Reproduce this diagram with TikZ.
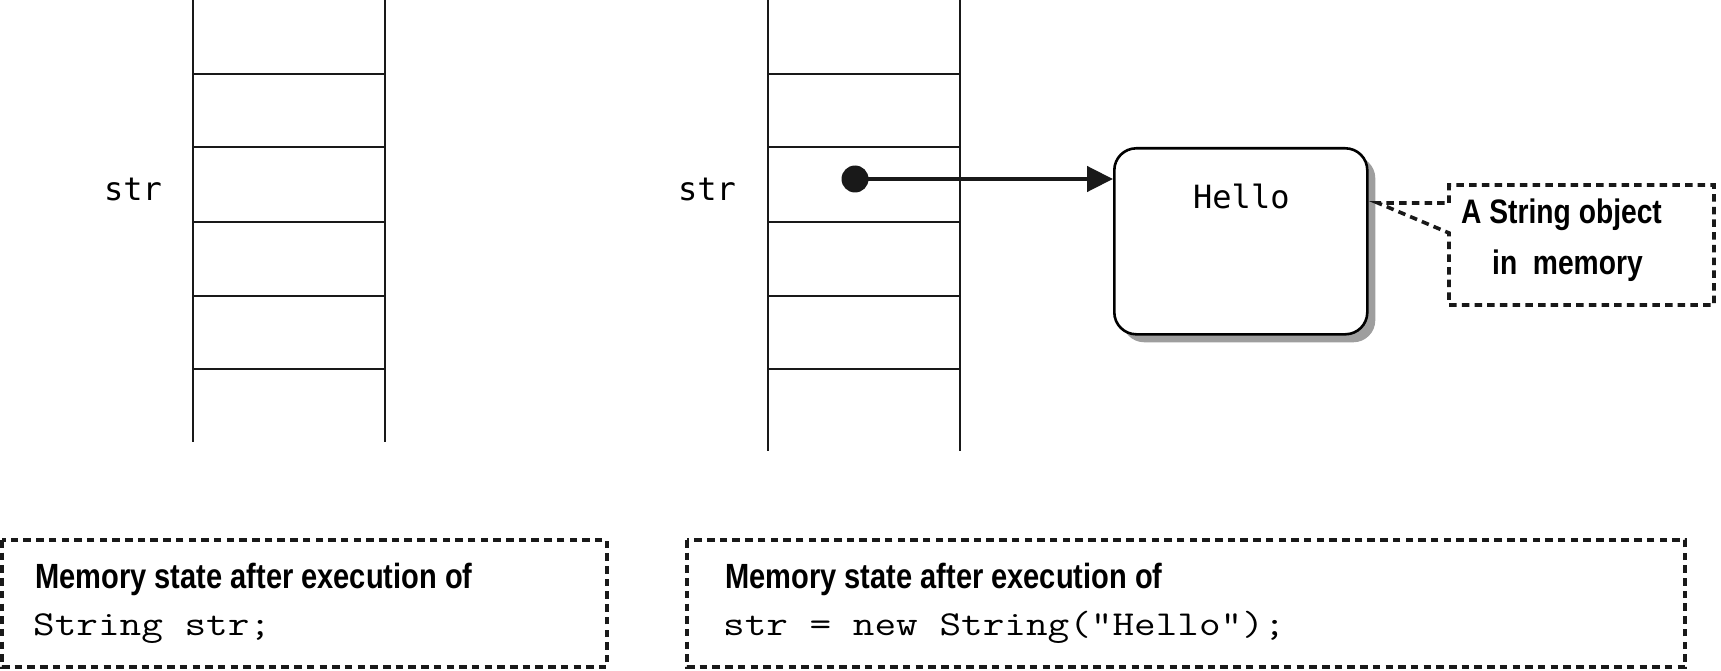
\documentclass[tikz,border=0pt]{standalone}
\usepackage{fontspec}
\setmainfont{Liberation Sans}
\newfontfamily\condbf[FakeStretch=0.83]{Liberation Sans}
\newfontfamily\courmono[FakeStretch=1.2]{Latin Modern Mono}
\newfontfamily\sansmono{DejaVu Sans Mono}
\usetikzlibrary{arrows.meta,shadows}
\tikzset{
  cellline/.style={line width=2.8pt, black!90},
  dashbox/.style={line width=3.6pt, dash pattern=on 7.5pt off 5.2pt, black!90},
  titletext/.style={inner sep=0pt, anchor=base west, font=\condbf\bfseries\fontsize{35}{42}\selectfont},
  calltext/.style={inner sep=0pt, anchor=base west, font=\condbf\bfseries\fontsize{34}{40}\selectfont},
  codetext/.style={inner sep=0pt, anchor=base west, font=\courmono\fontsize{35}{42}\selectfont},
  vartext/.style={inner sep=0pt, anchor=base west, font=\sansmono\fontsize{32}{38}\selectfont},
}
\begin{document}
\begin{tikzpicture}[x=1pt,y=-1pt]
\useasboundingbox (0,0) rectangle (1721,671);
% left stack
\draw[cellline] (193,0) -- (193,442);
\draw[cellline] (385,0) -- (385,442);
\foreach \yy in {74,147,222,296,369} \draw[cellline] (193,\yy) -- (385,\yy);
\node[vartext] (strA) at (104,201) {str};
% right stack
\draw[cellline] (768,0) -- (768,451);
\draw[cellline] (960,0) -- (960,451);
\foreach \yy in {74,147,222,296,369} \draw[cellline] (768,\yy) -- (960,\yy);
\node[vartext] (strB) at (678,201) {str};
% object box
\node[draw, line width=2.6pt, rounded corners=22pt, fill=white, anchor=north west,
      minimum width=253pt, minimum height=186pt, inner sep=0pt,
      drop shadow={shadow xshift=8pt, shadow yshift=-8pt, fill=black!38, opacity=1}]
      (obj) at (1113,147) {};
\node[vartext] (hello) at (1193,208) {Hello};
% reference
\node[circle, fill=black!90, minimum size=27pt, inner sep=0pt] (dot) at (855,179) {};
\draw[line width=4.5pt, black!90, -{Triangle[length=26pt,width=25pt]}] (dot.center) -- (dot.center -| obj.west);
% callout
\coordinate (c1) at (1449,185);
\coordinate (c2) at (1714,185);
\coordinate (c3) at (1714,305);
\coordinate (c4) at (1449,305);
\coordinate (c5) at (1449,233);
\coordinate (tip) at (1378,203);
\coordinate (c6) at (1449,203);
\draw[dashbox] (c6) -- (c1) -- (c2) -- (c3) -- (c4) -- (c5) -- (tip) -- (c6);
\node[calltext] (callA) at (1461,223) {A String object};
\node[calltext] (callB) at (1492,274) {in\ \ memory};
% bottom boxes
\draw[dashbox] (2,540) rectangle (607,667);
\node[titletext] (tA) at (35,588) {Memory state after execution of};
\node[codetext] (cA) at (33,635) {String str;};
\draw[dashbox] (687,540) rectangle (1685,667);
\node[titletext] (tB) at (725,588) {Memory state after execution of};
\node[codetext] (cB) at (723,635) {str = new String("Hello");};
\end{tikzpicture}
\end{document}
